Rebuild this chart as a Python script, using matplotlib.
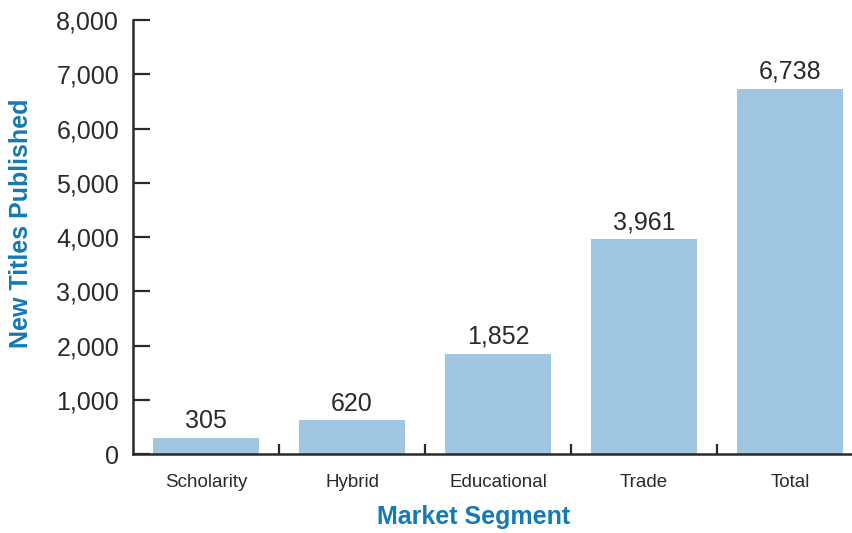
import matplotlib

matplotlib.use("Agg")
import matplotlib.pyplot as plt
from matplotlib.ticker import FuncFormatter, FixedLocator

segments = ["Scholarity", "Hybrid", "Educational", "Trade", "Total"]
titles = [305, 620, 1852, 3961, 6738]
y_ticks = [0, 1000, 2000, 3000, 4000, 5000, 6000, 7000, 8000]

BAR = "#a0c6e1"
INK = "#2a2a2a"
BLUE = "#1479b4"

plt.rcParams["font.family"] = ["Liberation Sans", "DejaVu Sans"]

fig = plt.figure(figsize=(8.53, 5.33), dpi=100)
ax = fig.add_axes([0.156, 0.148, 0.844, 0.814])

xs = range(len(segments))
ax.bar(xs, titles, width=0.726, color=BAR, zorder=2)
for x, v in zip(xs, titles):
    ax.annotate(f"{v:,}", (x, v), xytext=(0, 3.5), textcoords="offset points",
                ha="center", va="bottom", fontsize=18, color=INK)

ax.set_xlim(-0.5, 4.43)
ax.set_ylim(0, 8000)
ax.set_yticks(y_ticks)
ax.yaxis.set_major_formatter(FuncFormatter(lambda v, _: f"{int(v):,}"))
ax.tick_params(axis="y", direction="in", length=12, width=1.6, color=INK,
               labelsize=18, labelcolor=INK, pad=10)

ax.set_xticks(list(xs))
ax.set_xticklabels(segments)
ax.tick_params(axis="x", which="major", length=0, labelsize=13.5,
               labelcolor=INK, pad=14)
ax.xaxis.set_minor_locator(FixedLocator([0.5, 1.5, 2.5, 3.5]))
ax.tick_params(axis="x", which="minor", direction="in", length=7, width=1.6,
               color=INK)

for side in ("top", "right"):
    ax.spines[side].set_visible(False)
for side in ("left", "bottom"):
    ax.spines[side].set_linewidth(1.8)
    ax.spines[side].set_color(INK)

fig.text(0.555, 0.008, "Market Segment", ha="center", va="bottom",
         fontsize=18, fontweight="bold", color=BLUE)
fig.text(0.025, 0.582, "New Titles Published", ha="center", va="center",
         rotation=90, fontsize=18, fontweight="bold", color=BLUE)

fig.savefig("out.png", dpi=100)
